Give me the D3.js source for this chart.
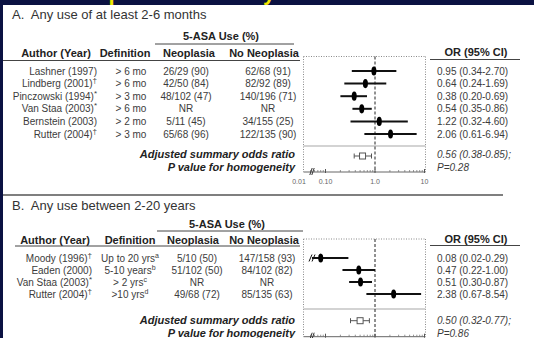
<!DOCTYPE html>
<html>
<head>
<meta charset="utf-8">
<script src="https://cdn.jsdelivr.net/npm/d3@7"></script>
<style>
  body { margin: 0; background: #0b1242; }
  svg { display: block; }
  text { font-family: "Liberation Sans", Arial, sans-serif; }
</style>
</head>
<body>
<svg id="chart" width="534" height="338"></svg>
<script>
// ---- panel A data ----
const authorsA = ['Lashner (1997)', 'Lindberg (2001)', 'Pinczowski (1994)', 'Van Staa (2003)', 'Bernstein (2003)', 'Rutter (2004)'];
const marksA = ['', '\u2020', '*', '*', '', '\u2020'];
const definitionsA = ['> 6 mo', '> 6 mo', '> 3 mo', '> 6 mo', '> 2 mo', '> 3 mo'];
const defSupA = ['', '', '', '', '', ''];
const neoplasiaA = ['26/29 (90)', '42/50 (84)', '48/102 (47)', 'NR', '5/11 (45)', '65/68 (96)'];
const noNeoplasiaA = ['62/68 (91)', '82/92 (89)', '140/196 (71)', 'NR', '34/155 (25)', '122/135 (90)'];
const orA = [0.95, 0.64, 0.38, 0.54, 1.22, 2.06];
const loA = [0.34, 0.24, 0.20, 0.35, 0.32, 0.61];
const hiA = [2.70, 1.69, 0.69, 0.86, 4.60, 6.94];
const summaryA = [0.56, 0.38, 0.85];
const pA = 'P=0.28';

// ---- panel B data ----
const authorsB = ['Moody (1996)', 'Eaden (2000)', 'Van Staa (2003)', 'Rutter (2004)'];
const marksB = ['\u2020', '', '*', '\u2020'];
const definitionsB = ['Up to 20 yrs', '5-10 years', '> 2 yrs', '>10 yrs'];
const defSupB = ['a', 'b', 'c', 'd'];
const neoplasiaB = ['5/10 (50)', '51/102 (50)', 'NR', '49/68 (72)'];
const noNeoplasiaB = ['147/158 (93)', '84/102 (82)', 'NR', '85/135 (63)'];
const orB = [0.08, 0.47, 0.51, 2.38];
const loB = [0.02, 0.22, 0.30, 0.67];
const hiB = [0.29, 1.00, 0.87, 8.54];
const summaryB = [0.50, 0.32, 0.77];
const pB = 'P=0.86';

// axis ticks
const tickValues = [0.01, 0.1, 1, 10];
const tickLabels = ['0.01', '0.10', '1.0', '10'];
const minorTicks = [0.05, 0.06, 0.07, 0.08, 0.09, 0.2, 0.3, 0.4, 0.5, 0.6, 0.7, 0.8, 0.9, 2, 3, 4, 5, 6, 7, 8, 9];

const svg = d3.select('#chart');
const textCol = '#3c3c3c';

svg.append('rect').attr('width', 534).attr('height', 338).attr('fill', '#0b1242');
svg.append('rect').attr('x', 3).attr('y', 5).attr('width', 531).attr('height', 333).attr('fill', '#fff');

// slide title, cut off by the top of the frame (only descenders show)
svg.append('clipPath').attr('id', 'band')
  .append('rect').attr('width', 534).attr('height', 5);
svg.append('text')
  .attr('clip-path', 'url(#band)')
  .attr('x', 34).attr('y', 0)
  .attr('fill', '#f2e600')
  .attr('font-size', 22).attr('font-weight', 'bold')
  .text('Chemoprevention: Any Use versus Duration of Therapy');

// log scale, with a broken segment at the left for 0.01
const x = d3.scaleLog().domain([0.1, 10]).range([325.5, 424.5]);
const boxLeft = 303.5, boxRight = 425.5, breakX = 312, lowTickX = 299;
const xPos = v => v <= 0.01 ? lowTickX : (x(v) < breakX ? breakX : x(v));
const f2 = d3.format('.2f');

function drawPanel(p) {
  const g = svg.append('g');
  const n = p.authors.length;
  const rowY = i => p.rowY0 + p.rowStep * i;

  g.append('text').attr('x', 12).attr('y', p.titleY)
    .attr('font-size', 13).attr('fill', '#333').attr('xml:space', 'preserve')
    .text(p.title);

  // grouped header
  g.append('text').attr('x', p.groupCx).attr('y', p.groupY)
    .attr('text-anchor', 'middle').attr('font-size', 11).attr('font-weight', 'bold').attr('fill', '#222')
    .text('5-ASA Use (%)');
  g.append('line').attr('x1', p.groupX[0]).attr('x2', p.groupX[1])
    .attr('y1', p.groupLine).attr('y2', p.groupLine).attr('stroke', '#444').attr('stroke-width', 1);

  const heads = [['Author (Year)', p.headCols.author], ['Definition', p.headCols.def],
    ['Neoplasia', p.headCols.neo], ['No Neoplasia', p.headCols.noneo]];
  g.selectAll('.head').data(heads).join('text')
    .attr('x', d => d[1]).attr('y', p.headY)
    .attr('text-anchor', 'middle').attr('font-size', 11).attr('font-weight', 'bold').attr('fill', '#222')
    .text(d => d[0]);
  g.append('line').attr('x1', p.headLineX[0]).attr('x2', p.headLineX[1])
    .attr('y1', p.headLine).attr('y2', p.headLine).attr('stroke', '#444').attr('stroke-width', 1);

  g.append('text').attr('x', 476).attr('y', p.orHeadY)
    .attr('text-anchor', 'middle').attr('font-size', 11).attr('font-weight', 'bold').attr('fill', '#222')
    .text('OR (95% CI)');
  g.append('line').attr('x1', 430).attr('x2', 520)
    .attr('y1', p.orLine).attr('y2', p.orLine).attr('stroke', '#444').attr('stroke-width', 1);

  // table rows
  const idx = d3.range(n);
  const author = g.selectAll('.author').data(idx).join('text')
    .attr('x', p.cols.author).attr('y', i => rowY(i) + 3.5)
    .attr('text-anchor', 'end').attr('font-size', 10).attr('fill', textCol);
  author.append('tspan').text(i => p.authors[i]);
  author.append('tspan').attr('dy', -4).attr('font-size', 8).text(i => p.marks[i]);

  const def = g.selectAll('.def').data(idx).join('text')
    .attr('x', p.cols.def).attr('y', i => rowY(i) + 3.5)
    .attr('text-anchor', 'middle').attr('font-size', 10).attr('fill', textCol);
  def.append('tspan').text(i => p.definitions[i]);
  def.append('tspan').attr('dy', -4).attr('font-size', 7).text(i => p.defSup[i]);

  g.selectAll('.neo').data(idx).join('text')
    .attr('x', p.cols.neo).attr('y', i => rowY(i) + 3.5)
    .attr('text-anchor', 'middle').attr('font-size', 10).attr('fill', textCol)
    .text(i => p.neoplasia[i]);
  g.selectAll('.noneo').data(idx).join('text')
    .attr('x', p.cols.noneo).attr('y', i => rowY(i) + 3.5)
    .attr('text-anchor', 'middle').attr('font-size', 10).attr('fill', textCol)
    .text(i => p.noNeoplasia[i]);
  g.selectAll('.ortext').data(idx).join('text')
    .attr('x', 437).attr('y', i => rowY(i) + 3.5)
    .attr('font-size', 10).attr('fill', textCol)
    .text(i => f2(p.or[i]) + ' (' + f2(p.lo[i]) + '-' + f2(p.hi[i]) + ')');

  // summary labels
  g.append('text').attr('x', 295).attr('y', p.sumTextY[0])
    .attr('text-anchor', 'end').attr('font-size', 11).attr('font-weight', 'bold').attr('font-style', 'italic').attr('fill', '#222')
    .text('Adjusted summary odds ratio');
  g.append('text').attr('x', 295).attr('y', p.sumTextY[1])
    .attr('text-anchor', 'end').attr('font-size', 11).attr('font-weight', 'bold').attr('font-style', 'italic').attr('fill', '#222')
    .text('P value for homogeneity');
  const s = p.summary;
  g.append('text').attr('x', 437).attr('y', p.sumTextY[0])
    .attr('font-size', 10).attr('font-style', 'italic').attr('fill', textCol)
    .text(f2(s[0]) + ' (' + f2(s[1]) + '-' + f2(s[2]) + ');');
  g.append('text').attr('x', 437).attr('y', p.sumTextY[1])
    .attr('font-size', 10).attr('font-style', 'italic').attr('fill', textCol)
    .text(p.pText);

  // plot frame (dotted top / sides)
  [[boxLeft, p.boxTop, boxRight, p.boxTop], [boxLeft, p.boxTop, boxLeft, p.axisY], [boxRight, p.boxTop, boxRight, p.axisY]]
    .forEach(c => g.append('line').attr('x1', c[0]).attr('y1', c[1]).attr('x2', c[2]).attr('y2', c[3])
      .attr('stroke', '#8a8a8a').attr('stroke-width', 1).attr('stroke-dasharray', '1,1.5'));
  g.append('line').attr('x1', boxLeft).attr('x2', boxRight).attr('y1', p.sepY).attr('y2', p.sepY)
    .attr('stroke', '#c4c4c4').attr('stroke-width', 1.5);
  g.append('line').attr('x1', x(1)).attr('x2', x(1)).attr('y1', p.boxTop).attr('y2', p.axisY)
    .attr('stroke', '#222').attr('stroke-width', 1).attr('stroke-dasharray', '3,2');

  // study estimates
  g.selectAll('.ci').data(idx).join('line')
    .attr('x1', i => xPos(p.lo[i])).attr('x2', i => xPos(p.hi[i]))
    .attr('y1', i => rowY(i)).attr('y2', i => rowY(i))
    .attr('stroke', '#111').attr('stroke-width', 2);
  idx.filter(i => x(p.lo[i]) < breakX).forEach(i => {
    [-1.5, 1.5].forEach(o => g.append('line')
      .attr('x1', breakX + o - 1.5).attr('x2', breakX + o + 1.5)
      .attr('y1', rowY(i) + 3.5).attr('y2', rowY(i) - 3.5)
      .attr('stroke', '#111').attr('stroke-width', 1));
  });
  g.selectAll('.pt').data(idx).join('ellipse')
    .attr('cx', i => x(p.or[i])).attr('cy', i => rowY(i))
    .attr('rx', 2.5).attr('ry', 4.6).attr('fill', '#000');

  // summary estimate
  const sc = '#555';
  g.append('line').attr('x1', x(s[1])).attr('x2', x(s[2])).attr('y1', p.sumY).attr('y2', p.sumY)
    .attr('stroke', sc).attr('stroke-width', 1);
  [s[1], s[2]].forEach(v => g.append('line').attr('x1', x(v)).attr('x2', x(v))
    .attr('y1', p.sumY - 2.5).attr('y2', p.sumY + 2.5).attr('stroke', sc).attr('stroke-width', 1));
  g.append('rect').attr('x', x(s[0]) - 3).attr('y', p.sumY - 3).attr('width', 6).attr('height', 6)
    .attr('fill', '#fff').attr('stroke', sc).attr('stroke-width', 1);

  // axis
  const axis = g.append('g').attr('transform', 'translate(0,' + p.axisY + ')');
  axis.append('line').attr('x1', boxLeft).attr('x2', boxRight).attr('stroke', '#666').attr('stroke-width', 1);
  axis.selectAll('.minor').data(minorTicks).join('line')
    .attr('x1', d => x(d)).attr('x2', d => x(d)).attr('y1', -2).attr('y2', 0)
    .attr('stroke', '#777').attr('stroke-width', 0.8);
  axis.selectAll('.major').data(tickValues.filter(d => d > 0.01)).join('line')
    .attr('x1', d => x(d)).attr('x2', d => x(d)).attr('y1', -3).attr('y2', 1)
    .attr('stroke', '#555').attr('stroke-width', 1);
  if (p.showTickLabels) {
    axis.selectAll('.tl').data(tickValues).join('text')
      .attr('x', d => xPos(d)).attr('y', 11.5)
      .attr('text-anchor', 'middle').attr('font-size', 7).attr('fill', '#666')
      .text((d, i) => tickLabels[i]);
  }
  [-1, 1].forEach(o => axis.append('line')
    .attr('x1', breakX + o - 1.2).attr('x2', breakX + o + 1.2).attr('y1', 3).attr('y2', -4)
    .attr('stroke', '#333').attr('stroke-width', 1));
}

drawPanel({
  title: 'A.  Any use of at least 2-6 months',
  authors: authorsA, marks: marksA, definitions: definitionsA, defSup: defSupA,
  neoplasia: neoplasiaA, noNeoplasia: noNeoplasiaA, or: orA, lo: loA, hi: hiA,
  summary: summaryA, pText: pA, showTickLabels: true,
  titleY: 19, groupY: 40, groupCx: 221, groupLine: 44, groupX: [155, 294],
  headY: 57, headLine: 60.5, headLineX: [3, 300], orHeadY: 56, orLine: 59.5,
  headCols: { author: 56, def: 125, neo: 189, noneo: 264 },
  cols: { author: 97, def: 131, neo: 186, noneo: 268 },
  boxTop: 56.5, rowY0: 71, rowStep: 12.6, sepY: 146, sumY: 156,
  sumTextY: [158, 170.5], axisY: 172
});

// panel B runs off the bottom of the frame: its tick labels are not visible
drawPanel({
  title: 'B.  Any use between 2-20 years',
  authors: authorsB, marks: marksB, definitions: definitionsB, defSup: defSupB,
  neoplasia: neoplasiaB, noNeoplasia: noNeoplasiaB, or: orB, lo: loB, hi: hiB,
  summary: summaryB, pText: pB, showTickLabels: false,
  titleY: 210, groupY: 227.5, groupCx: 227, groupLine: 231, groupX: [157, 303],
  headY: 244, headLine: 246, headLineX: [15, 300], orHeadY: 243, orLine: 245.5,
  headCols: { author: 55, def: 130, neo: 193, noneo: 264 },
  cols: { author: 92, def: 130, neo: 197, noneo: 267 },
  boxTop: 239, rowY0: 258, rowStep: 12, sepY: 309, sumY: 320.7,
  sumTextY: [324, 336.5], axisY: 336.7
});

// divider between the panels
svg.append('line').attr('x1', 3).attr('x2', 503).attr('y1', 195).attr('y2', 195)
  .attr('stroke', '#555').attr('stroke-width', 1.5);
</script>
</body>
</html>
